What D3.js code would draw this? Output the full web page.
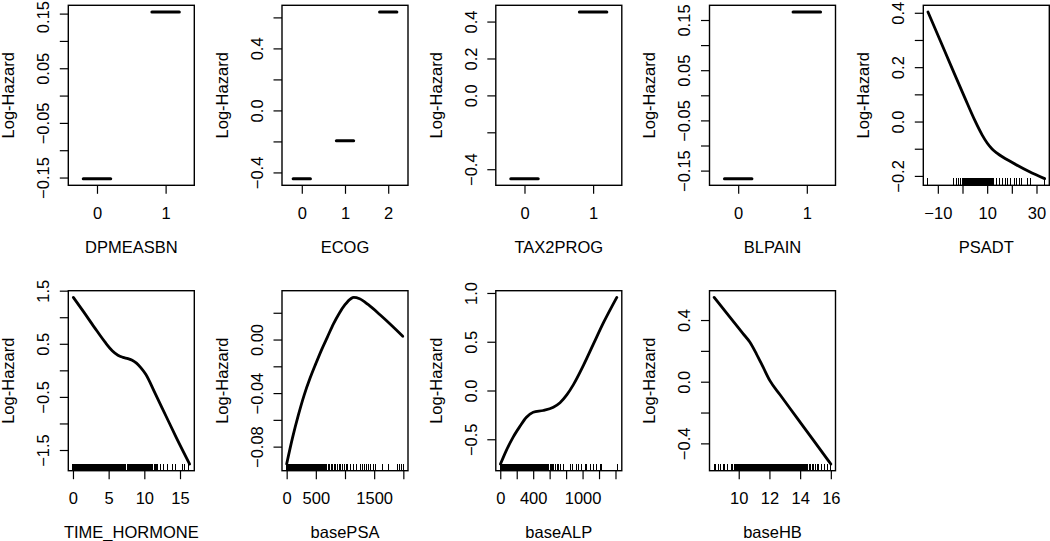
<!DOCTYPE html>
<html>
<head>
<meta charset="utf-8">
<script src="https://cdn.jsdelivr.net/npm/d3@7"></script>
<style>
  body { margin: 0; background: #fff; }
  svg { display: block; }
  text { font-family: "Liberation Sans", Arial, Helvetica, sans-serif; fill: #000; }
</style>
</head>
<body>
<svg id="chart" width="1050" height="541"></svg>
<script>
// ---------------- DATA ----------------
const yTitle = "Log-Hazard";

// Categorical panels
const dpmeasbnLevels = ["0", "1"];
const dpmeasbnValues = [-0.152, 0.153];
const dpmeasbnYTicks = [-0.15, -0.10, -0.05, 0, 0.05, 0.10, 0.15];
const dpmeasbnYLabels = ["\u22120.15", "", "\u22120.05", "", "0.05", "", "0.15"];

const ecogLevels = ["0", "1", "2"];
const ecogValues = [-0.44, -0.195, 0.635];
const ecogYTicks = [-0.4, -0.2, 0, 0.2, 0.4, 0.6];
const ecogYLabels = ["\u22120.4", "", "0.0", "", "0.4", ""];

const tax2progLevels = ["0", "1"];
const tax2progValues = [-0.451, 0.452];
const tax2progYTicks = [-0.4, -0.2, 0, 0.2, 0.4];
const tax2progYLabels = ["\u22120.4", "", "0.0", "0.2", "0.4"];

const blpainLevels = ["0", "1"];
const blpainValues = [-0.166, 0.166];
const blpainYTicks = [-0.15, -0.10, -0.05, 0, 0.05, 0.10, 0.15];
const blpainYLabels = ["\u22120.15", "", "\u22120.05", "", "0.05", "", "0.15"];

// Continuous panels
const psadtX = [-14.0, -9.0, -4.0, 1.0, 5.0, 8.0, 10.0, 12.0, 14.0, 20.0, 27.0, 33.3];
const psadtY = [0.403, 0.297, 0.191, 0.086, 0.004, -0.05, -0.079, -0.101, -0.116, -0.15, -0.184, -0.21];
const psadtRug = [-14.0, -3.7, -2.6, -1.6, -0.7, 0.2, 0.5, 0.8, 1.1, 1.4, 1.7, 2.0, 2.3, 2.6, 2.9, 3.2, 3.5, 3.8, 4.1, 4.4, 4.7, 5.0, 5.3, 5.6, 5.9, 6.2, 6.5, 6.8, 7.1, 7.4, 7.7, 8.0, 8.3, 8.6, 8.9, 9.2, 9.5, 9.8, 10.1, 10.4, 10.8, 11.2, 11.6, 12.0, 12.6, 13.7, 15.0, 16.4, 17.3, 18.2, 19.3, 20.9, 22.0, 23.1, 24.1, 26.4, 27.4, 33.3];
const psadtXTicks = [-10, 0, 10, 20, 30];
const psadtXLabels = ["\u221210", "", "10", "", "30"];
const psadtYTicks = [-0.2, -0.1, 0, 0.1, 0.2, 0.3, 0.4];
const psadtYLabels = ["\u22120.2", "", "0.0", "", "0.2", "", "0.4"];

const timeHormoneX = [0.05, 1.5, 3.0, 4.5, 5.5, 6.3, 7.0, 7.7, 8.3, 8.9, 9.5, 10.2, 11.5, 13.0, 14.5, 16.35];
const timeHormoneY = [1.374, 1.10, 0.81, 0.53, 0.37, 0.285, 0.245, 0.22, 0.19, 0.135, 0.05, -0.075, -0.43, -0.85, -1.27, -1.764];
const timeHormoneRug = [0.0, 0.1, 0.2, 0.3, 0.4, 0.5, 0.6, 0.7, 0.8, 0.9, 1.0, 1.1, 1.2, 1.3, 1.4, 1.5, 1.6, 1.7, 1.8, 1.9, 2.0, 2.1, 2.2, 2.3, 2.4, 2.5, 2.6, 2.7, 2.8, 2.9, 3.0, 3.1, 3.2, 3.3, 3.4, 3.5, 3.6, 3.7, 3.8, 3.9, 4.0, 4.1, 4.2, 4.3, 4.4, 4.5, 4.6, 4.7, 4.8, 4.9, 5.0, 5.1, 5.2, 5.3, 5.4, 5.5, 5.6, 5.7, 5.8, 5.9, 6.0, 6.1, 6.2, 6.3, 6.4, 6.5, 6.6, 6.7, 6.8, 6.9, 7.0, 7.1, 7.2, 7.3, 7.4, 7.6, 7.7, 7.8, 7.9, 8.0, 8.1, 8.2, 8.3, 8.4, 8.5, 8.6, 8.7, 8.8, 8.9, 9.0, 9.1, 9.2, 9.3, 9.4, 9.5, 9.6, 9.7, 9.8, 9.9, 10.0, 10.1, 10.2, 10.3, 10.4, 10.5, 10.6, 10.7, 10.8, 10.9, 11.0, 11.1, 11.2, 11.4, 11.5, 11.6, 11.7, 11.8, 12.2, 12.7, 13.2, 13.9, 14.3, 15.3, 15.6, 16.2];
const timeHormoneXTicks = [0, 5, 10, 15];
const timeHormoneXLabels = ["0", "5", "10", "15"];
const timeHormoneYTicks = [-1.5, -1.0, -0.5, 0, 0.5, 1.0, 1.5];
const timeHormoneYLabels = ["\u22121.5", "", "\u22120.5", "", "0.5", "", "1.5"];

const basePsaX = [0, 100, 200, 300, 400, 500, 600, 700, 800, 900, 1000, 1100, 1150, 1250, 1400, 1600, 1800, 1990];
const basePsaY = [-0.093, -0.0735, -0.0565, -0.0415, -0.029, -0.018, -0.0075, 0.002, 0.0115, 0.0195, 0.026, 0.0305, 0.0315, 0.0305, 0.026, 0.0185, 0.0105, 0.0025];
const basePsaRug = [3, 15, 30, 45, 60, 75, 90, 105, 120, 135, 150, 165, 180, 195, 210, 225, 240, 255, 270, 285, 300, 315, 330, 345, 360, 375, 390, 405, 420, 435, 450, 465, 480, 495, 510, 525, 540, 555, 570, 585, 600, 615, 630, 642, 665, 690, 715, 735, 760, 790, 815, 840, 870, 900, 930, 960, 990, 1020, 1039, 1096, 1150, 1200, 1260, 1300, 1330, 1370, 1400, 1440, 1490, 1530, 1635, 1750, 1892, 1932, 1966, 2000];
const basePsaXTicks = [0, 500, 1000, 1500, 2000];
const basePsaXLabels = ["0", "500", "", "1500", ""];
const basePsaYTicks = [-0.08, -0.06, -0.04, -0.02, 0.00, 0.02];
const basePsaYLabels = ["\u22120.08", "", "\u22120.04", "", "0.00", ""];

const baseAlpX = [2.5, 73, 155, 237, 318, 400, 522, 645, 726, 808, 889, 1012, 1134, 1257, 1416];
const baseAlpY = [-0.754, -0.616, -0.48, -0.37, -0.274, -0.223, -0.205, -0.171, -0.125, -0.045, 0.06, 0.26, 0.48, 0.70, 0.955];
const baseAlpRug = [3, 12, 22, 31, 40, 50, 60, 70, 80, 90, 100, 110, 120, 130, 140, 150, 160, 170, 180, 190, 200, 210, 220, 230, 240, 250, 260, 270, 280, 290, 300, 310, 320, 330, 340, 350, 360, 370, 380, 390, 400, 410, 420, 432, 444, 456, 468, 480, 492, 504, 516, 528, 540, 552, 564, 576, 590, 605, 620, 635, 650, 668, 690, 705, 726, 767, 849, 881, 922, 951, 991, 1032, 1053, 1093, 1134, 1175, 1216, 1236, 1420];
const baseAlpXTicks = [0, 200, 400, 600, 800, 1000, 1200, 1400];
const baseAlpXLabels = ["0", "", "400", "", "", "1000", "", ""];
const baseAlpYTicks = [-0.5, 0, 0.5, 1.0];
const baseAlpYLabels = ["\u22120.5", "0.0", "0.5", "1.0"];

const baseHbX = [8.4, 9.41, 10.28, 10.72, 11.15, 11.59, 12.03, 12.68, 13.77, 14.86, 16.0];
const baseHbY = [0.547, 0.42, 0.312, 0.257, 0.181, 0.094, 0.007, -0.083, -0.231, -0.379, -0.534];
const baseHbRug = [8.4, 8.5, 8.7, 8.8, 9.0, 9.1, 9.3, 9.5, 9.6, 9.7, 9.8, 9.85, 9.9, 9.95, 10.0, 10.05, 10.1, 10.15, 10.2, 10.25, 10.3, 10.35, 10.4, 10.45, 10.5, 10.55, 10.6, 10.65, 10.7, 10.75, 10.8, 10.85, 10.9, 10.95, 11.0, 11.05, 11.1, 11.15, 11.2, 11.25, 11.3, 11.35, 11.4, 11.45, 11.5, 11.55, 11.6, 11.65, 11.7, 11.75, 11.8, 11.85, 11.9, 11.95, 12.0, 12.05, 12.1, 12.15, 12.2, 12.25, 12.3, 12.35, 12.4, 12.45, 12.5, 12.55, 12.6, 12.65, 12.7, 12.75, 12.8, 12.85, 12.9, 12.95, 13.0, 13.05, 13.1, 13.15, 13.2, 13.25, 13.3, 13.35, 13.4, 13.45, 13.5, 13.55, 13.6, 13.65, 13.7, 13.75, 13.8, 13.85, 13.9, 13.95, 14.0, 14.05, 14.1, 14.15, 14.2, 14.25, 14.3, 14.35, 14.4, 14.45, 14.5, 14.6, 14.7, 14.8, 14.9, 15.0, 15.1, 15.2, 15.4, 15.6, 15.8, 16.0];
const baseHbXTicks = [10, 12, 14, 16];
const baseHbXLabels = ["10", "12", "14", "16"];
const baseHbYTicks = [-0.4, -0.2, 0, 0.2, 0.4];
const baseHbYLabels = ["\u22120.4", "", "0.0", "", "0.4"];

// ---------------- LAYOUT ----------------
const svg = d3.select("#chart");
const colLeft = [68.3, 282, 495.8, 709.5, 923.3];
const rowTop = [5.3, 290.7];
const boxW = 126, boxH = 180;
const fontSize = 16.5;

function extend(ext) {
  const pad = 0.04 * (ext[1] - ext[0]);
  return [ext[0] - pad, ext[1] + pad];
}

function frame(col, row, x, y, xTicks, xLabels, yTicks, yLabels, xTitle) {
  const L = colLeft[col], T = rowTop[row];
  const g = svg.append("g").attr("transform", `translate(${L},${T})`);

  // x axis
  const xa = g.append("g").attr("transform", `translate(0,${boxH})`)
    .call(d3.axisBottom(x).tickValues(xTicks).tickFormat((d, i) => xLabels[i]).tickSizeOuter(0).tickSizeInner(8.5));
  xa.select(".domain").remove();
  xa.selectAll(".tick line").attr("stroke", "#000").attr("stroke-width", 1.2);
  xa.selectAll(".tick text").attr("y", 28).attr("dy", "0.35em")
    .style("font-size", fontSize + "px").attr("fill", "#000");
  xa.attr("font-family", null).attr("font-size", null);

  // y axis
  const ya = g.append("g")
    .call(d3.axisLeft(y).tickValues(yTicks).tickFormat((d, i) => yLabels[i]).tickSizeOuter(0).tickSizeInner(8.5));
  ya.select(".domain").remove();
  ya.selectAll(".tick line").attr("stroke", "#000").attr("stroke-width", 1.2);
  ya.selectAll(".tick text").attr("x", null).attr("dy", "0.35em")
    .attr("transform", "translate(-25,0) rotate(-90)")
    .attr("text-anchor", "middle")
    .style("font-size", fontSize + "px").attr("fill", "#000");
  ya.attr("font-family", null).attr("font-size", null);
  // keep rotated labels inside the picture (shift down if they'd run past the top edge)
  ya.selectAll(".tick").each(function () {
    const tick = d3.select(this);
    const ty = +tick.attr("transform").match(/,\s*([-\d.]+)/)[1];
    const txt = tick.select("text");
    const len = txt.node().getComputedTextLength();
    const topY = T + ty - len / 2;
    if (topY < 1) {
      txt.attr("transform", `translate(-25,${1 - topY}) rotate(-90)`);
    }
  });

  // box
  g.append("rect").attr("x", 0).attr("y", 0).attr("width", boxW).attr("height", boxH)
    .attr("fill", "none").attr("stroke", "#000").attr("stroke-width", 1.4);

  // titles
  g.append("text").attr("x", boxW / 2).attr("y", boxH + 61.5).attr("dy", "0.35em")
    .attr("text-anchor", "middle").style("font-size", fontSize + "px").text(xTitle);
  g.append("text").attr("transform", `translate(-60,${boxH / 2}) rotate(-90)`).attr("dy", "0.35em")
    .attr("text-anchor", "middle").style("font-size", fontSize + "px").text(yTitle);
  return g;
}

function categoricalPanel(col, row, levels, values, yTicks, yLabels, xTitle) {
  const idx = levels.map((d, i) => i);
  const x = d3.scaleLinear().domain(extend([-0.35, levels.length - 1 + 0.35])).range([0, boxW]);
  const y = d3.scaleLinear().domain(extend(d3.extent(values))).range([boxH, 0]);
  const g = frame(col, row, x, y, idx, levels, yTicks, yLabels, xTitle);
  g.selectAll("line.seg").data(values).join("line").attr("class", "seg")
    .attr("x1", (d, i) => x(i - 0.2)).attr("x2", (d, i) => x(i + 0.2))
    .attr("y1", d => y(d)).attr("y2", d => y(d))
    .attr("stroke", "#000").attr("stroke-width", 3).attr("stroke-linecap", "round");
}

function curvePanel(col, row, xs, ys, rug, xTicks, xLabels, yTicks, yLabels, xTitle) {
  const x = d3.scaleLinear().domain(extend(d3.extent(xs.concat(rug)))).range([0, boxW]);
  const y = d3.scaleLinear().domain(extend(d3.extent(ys))).range([boxH, 0]);
  const g = frame(col, row, x, y, xTicks, xLabels, yTicks, yLabels, xTitle);
  const pts = xs.map((d, i) => [d, ys[i]]);
  g.append("g").attr("shape-rendering", "crispEdges").selectAll("line").data(rug).join("line")
    .attr("x1", d => x(d)).attr("x2", d => x(d))
    .attr("y1", boxH).attr("y2", boxH - 7)
    .attr("stroke", "#000").attr("stroke-width", 1);
  g.append("path").datum(pts)
    .attr("d", d3.line().x(d => x(d[0])).y(d => y(d[1])).curve(d3.curveMonotoneX))
    .attr("fill", "none").attr("stroke", "#000").attr("stroke-width", 2.8)
    .attr("stroke-linejoin", "round").attr("stroke-linecap", "round");
}

categoricalPanel(0, 0, dpmeasbnLevels, dpmeasbnValues, dpmeasbnYTicks, dpmeasbnYLabels, "DPMEASBN");
categoricalPanel(1, 0, ecogLevels, ecogValues, ecogYTicks, ecogYLabels, "ECOG");
categoricalPanel(2, 0, tax2progLevels, tax2progValues, tax2progYTicks, tax2progYLabels, "TAX2PROG");
categoricalPanel(3, 0, blpainLevels, blpainValues, blpainYTicks, blpainYLabels, "BLPAIN");
curvePanel(4, 0, psadtX, psadtY, psadtRug, psadtXTicks, psadtXLabels, psadtYTicks, psadtYLabels, "PSADT");
curvePanel(0, 1, timeHormoneX, timeHormoneY, timeHormoneRug, timeHormoneXTicks, timeHormoneXLabels, timeHormoneYTicks, timeHormoneYLabels, "TIME_HORMONE");
curvePanel(1, 1, basePsaX, basePsaY, basePsaRug, basePsaXTicks, basePsaXLabels, basePsaYTicks, basePsaYLabels, "basePSA");
curvePanel(2, 1, baseAlpX, baseAlpY, baseAlpRug, baseAlpXTicks, baseAlpXLabels, baseAlpYTicks, baseAlpYLabels, "baseALP");
curvePanel(3, 1, baseHbX, baseHbY, baseHbRug, baseHbXTicks, baseHbXLabels, baseHbYTicks, baseHbYLabels, "baseHB");
</script>
</body>
</html>
